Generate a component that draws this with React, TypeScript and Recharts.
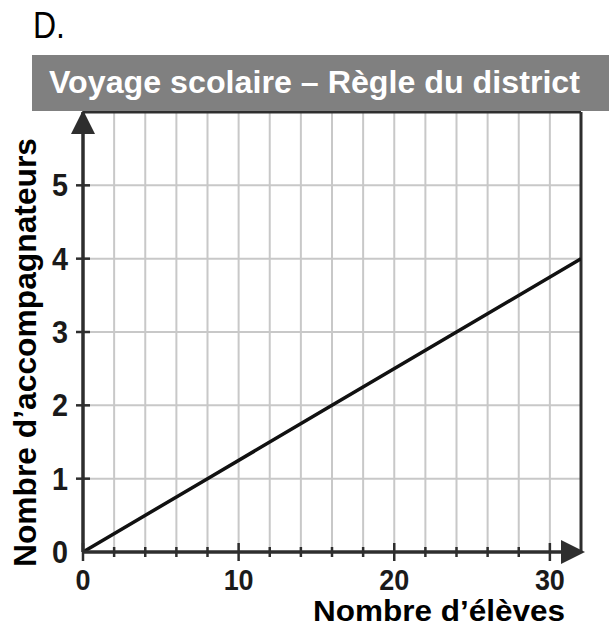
import React from 'react';
import { LineChart, Line, XAxis, YAxis, CartesianGrid, ReferenceLine, Label } from 'recharts';

const students = [0, 8, 16, 24, 32];
const chaperones = [0, 1, 2, 3, 4];
const xTicks = [0, 2, 4, 6, 8, 10, 12, 14, 16, 18, 20, 22, 24, 26, 28, 30, 32];
const yTicks = [0, 1, 2, 3, 4, 5, 6];
const xLabeled = [0, 10, 20, 30];
const yLabeled = [0, 1, 2, 3, 4, 5];
const xMax = 32;
const yMax = 6;
const title = 'Voyage scolaire – Règle du district';
const panelLetter = 'D.';
const xTitle = 'Nombre d’élèves';
const yTitle = 'Nombre d’accompagnateurs';

const data = students.map((s, i) => ({ s, c: chaperones[i] }));

const FONT = "'Liberation Sans', Arial, Helvetica, sans-serif";
const DARK = '#2e2e2e';

const XTick = (props: any) => {
  const { x, y, payload } = props;
  const v = payload.value;
  const major = xLabeled.includes(v);
  const isLast = v === xMax;
  const h = major ? 9 : 5;
  return (
    <g>
      {!isLast && <line x1={x} x2={x} y1={y - h} y2={y + h} stroke={DARK} strokeWidth={2.5} />}
      {major && (
        <text
          x={x}
          y={y + 38}
          textAnchor="middle"
          fontFamily={FONT}
          fontWeight="bold"
          fontSize={30}
          fill="#1a1a1a"
          textLength={String(v).length * 15}
          lengthAdjust="spacingAndGlyphs"
        >
          {v}
        </text>
      )}
      {isLast && <polygon points={`${x - 20},${y - 12} ${x + 4},${y} ${x - 20},${y + 12}`} fill={DARK} />}
    </g>
  );
};

const YTick = (props: any) => {
  const { x, y, payload } = props;
  const v = payload.value;
  const isLast = v === yMax;
  return (
    <g>
      {!isLast && v !== 0 && <line x1={x - 7} x2={x + 7} y1={y} y2={y} stroke={DARK} strokeWidth={2.5} />}
      {yLabeled.includes(v) && (
        <text
          x={x - 15}
          y={y + 11}
          textAnchor="end"
          fontFamily={FONT}
          fontWeight="bold"
          fontSize={31}
          fill="#1a1a1a"
          textLength={16}
          lengthAdjust="spacingAndGlyphs"
        >
          {v}
        </text>
      )}
      {isLast && <polygon points={`${x - 12},${y + 22} ${x},${y - 2} ${x + 12},${y + 22}`} fill={DARK} />}
    </g>
  );
};

export default function App() {
  return (
    <div style={{ position: 'absolute', left: 0, top: 0, width: 609, height: 631, background: '#fff' }}>
      <LineChart width={609} height={631} data={data} margin={{ top: 112, right: 28, bottom: 29, left: 0 }}>
        <CartesianGrid stroke="#c8c8c8" strokeWidth={2} />
        <XAxis
          type="number"
          dataKey="s"
          domain={[0, xMax]}
          ticks={xTicks}
          interval={0}
          height={50}
          tickSize={0}
          tickMargin={0}
          tickLine={false}
          axisLine={{ stroke: DARK, strokeWidth: 3.5 }}
          tick={<XTick />}
          allowDataOverflow
        >
          <Label
            content={() => (
              <text
                x={313}
                y={621}
                fontFamily={FONT}
                fontWeight="bold"
                fontSize={29}
                fill="#000"
                textLength={252}
                lengthAdjust="spacingAndGlyphs"
              >
                {xTitle}
              </text>
            )}
          />
        </XAxis>
        <YAxis
          type="number"
          domain={[0, yMax]}
          ticks={yTicks}
          interval={0}
          width={83}
          tickSize={0}
          tickMargin={0}
          tickLine={false}
          axisLine={{ stroke: DARK, strokeWidth: 3.5 }}
          tick={<YTick />}
          allowDataOverflow
        >
          <Label
            content={() => (
              <text
                x={36}
                y={352.5}
                transform="rotate(-90 36 352.5)"
                textAnchor="middle"
                fontFamily={FONT}
                fontWeight="bold"
                fontSize={31}
                fill="#000"
                textLength={429}
                lengthAdjust="spacingAndGlyphs"
              >
                {yTitle}
              </text>
            )}
          />
        </YAxis>
        <ReferenceLine x={xMax} stroke={DARK} strokeWidth={3} />
        <ReferenceLine y={yMax} stroke={DARK} strokeWidth={3} />
        <Line
          type="linear"
          dataKey="c"
          stroke="#111"
          strokeWidth={3.5}
          dot={false}
          activeDot={false}
          isAnimationActive={false}
        />
      </LineChart>
      <svg width={609} height={120} style={{ position: 'absolute', left: 0, top: 0, pointerEvents: 'none' }}>
        <text
          x={33}
          y={38}
          fontFamily={FONT}
          fontSize={36}
          fill="#000"
          textLength={32}
          lengthAdjust="spacingAndGlyphs"
        >
          {panelLetter}
        </text>
        <rect x={32} y={55} width={577} height={56} fill="#808080" />
        <text
          x={49}
          y={93}
          fontFamily={FONT}
          fontWeight="bold"
          fontSize={31}
          fill="#fff"
          textLength={531}
          lengthAdjust="spacingAndGlyphs"
        >
          {title}
        </text>
      </svg>
    </div>
  );
}
